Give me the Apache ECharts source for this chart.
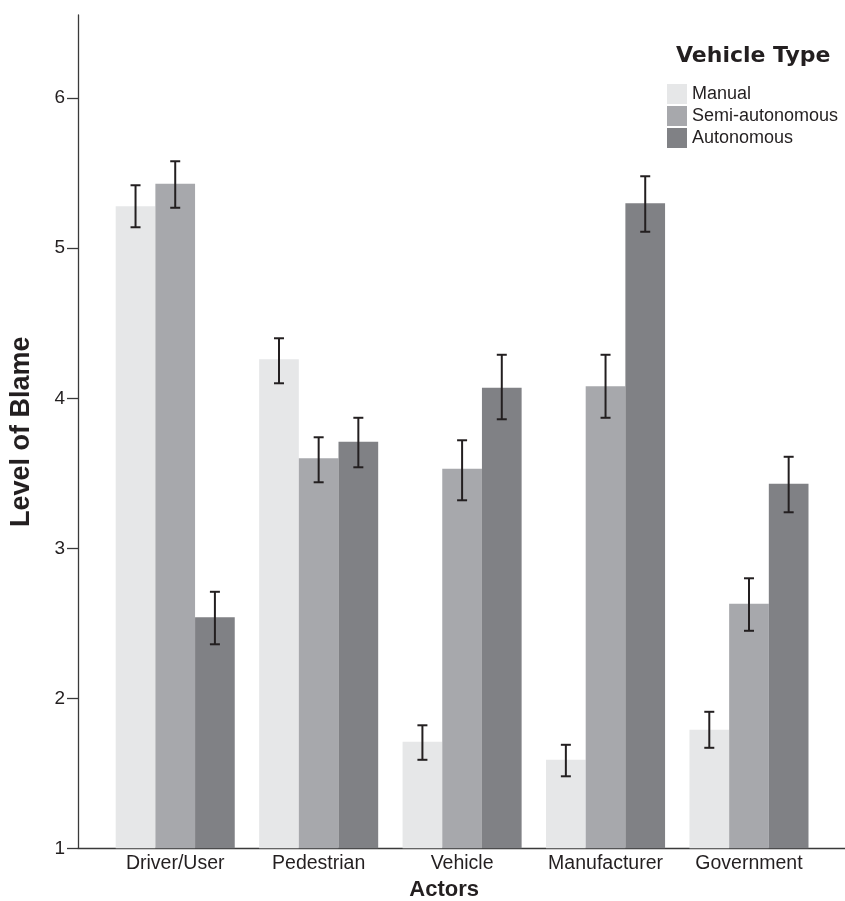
<!DOCTYPE html>
<html>
<head>
<meta charset="utf-8">
<script src="https://cdn.jsdelivr.net/npm/echarts@6/dist/echarts.min.js"></script>
<style>html,body{margin:0;padding:0;background:#fff;}#chart{width:845px;height:901px;}</style>
</head>
<body>
<div id="chart"></div>
<script>
const categories = ['Driver/User', 'Pedestrian', 'Vehicle', 'Manufacturer', 'Government'];
const seriesNames = ['Manual', 'Semi-autonomous', 'Autonomous'];
const manual = [5.28, 4.26, 1.71, 1.59, 1.79];
const manualLow = [5.14, 4.10, 1.59, 1.48, 1.67];
const manualHigh = [5.42, 4.40, 1.82, 1.69, 1.91];
const semi = [5.43, 3.60, 3.53, 4.08, 2.63];
const semiLow = [5.27, 3.44, 3.32, 3.87, 2.45];
const semiHigh = [5.58, 3.74, 3.72, 4.29, 2.80];
const autonomous = [2.54, 3.71, 4.07, 5.30, 3.43];
const autonomousLow = [2.36, 3.54, 3.86, 5.11, 3.24];
const autonomousHigh = [2.71, 3.87, 4.29, 5.48, 3.61];
const yTicks = [1, 2, 3, 4, 5, 6];

const colors = ['#e6e7e8', '#a7a8ac', '#808185'];
const values = [manual, semi, autonomous];
const lows = [manualLow, semiLow, autonomousLow];
const highs = [manualHigh, semiHigh, autonomousHigh];

const errData = [];
for (let s = 0; s < 3; s++) {
  for (let c = 0; c < categories.length; c++) {
    errData.push([c, s, lows[s][c], highs[s][c]]);
  }
}

const FONT = '"Liberation Sans", Arial, Helvetica, sans-serif';
const TXT = '#231f20';
const YMIN = 1, YMAX = 6.555;
const GAP = 0.17;

const chart = echarts.init(document.getElementById('chart'), null, {renderer: 'canvas'});
const option = {
  animation: false,
  backgroundColor: '#ffffff',
  title: {
    text: 'Vehicle Type',
    left: 671, top: 40,
    textStyle: {fontFamily: '"DejaVu Sans", sans-serif', fontWeight: 'bold', fontSize: 22, color: TXT}
  },
  legend: {
    orient: 'vertical',
    left: 662, top: 79,
    icon: 'rect',
    itemWidth: 20, itemHeight: 20, itemGap: 2,
    data: seriesNames,
    textStyle: {fontFamily: FONT, fontSize: 18, color: TXT, padding: [0, 0, 0, 0]}
  },
  grid: [
    {left: 103.5, right: 24.3, top: 15, bottom: 52.7, containLabel: false, outerBoundsMode: 'none'},
    {left: 78, right: 0, top: 15, bottom: 52.7, containLabel: false, outerBoundsMode: 'none'}
  ],
  xAxis: [
    {
      type: 'category', gridIndex: 0, data: categories,
      axisLine: {show: false}, axisTick: {show: false},
      axisLabel: {fontFamily: FONT, fontSize: 19.5, color: TXT, margin: 5, interval: 0},
      name: 'Actors', nameLocation: 'middle', nameGap: 31,
      nameTextStyle: {fontFamily: FONT, fontWeight: 'bold', fontSize: 22, color: TXT, padding: [0, 36, 0, 0]}
    },
    {
      type: 'value', gridIndex: 1, min: 0, max: 1,
      axisLine: {show: true, onZero: false, lineStyle: {color: '#3a3a3a', width: 1.3}},
      axisTick: {show: false}, axisLabel: {show: false}, splitLine: {show: false}
    }
  ],
  yAxis: [
    {type: 'value', gridIndex: 0, min: YMIN, max: YMAX, show: false, splitLine: {show: false}},
    {
      type: 'value', gridIndex: 1, min: YMIN, max: YMAX,
      axisLine: {show: true, onZero: false, lineStyle: {color: '#3a3a3a', width: 1.3}},
      axisTick: {show: true, length: 11, customValues: yTicks, lineStyle: {color: '#3a3a3a', width: 1.3}},
      axisLabel: {fontFamily: FONT, fontSize: 19, color: TXT, margin: 13, customValues: yTicks},
      splitLine: {show: false},
      name: 'Level of Blame', nameLocation: 'middle', nameGap: 43,
      nameTextStyle: {fontFamily: FONT, fontWeight: 'bold', fontSize: 27, color: TXT}
    }
  ],
  series: [
    ...seriesNames.map((n, i) => ({
      type: 'bar', name: n, xAxisIndex: 0, yAxisIndex: 0,
      data: values[i],
      barGap: '0%', barCategoryGap: (GAP * 100) + '%',
      itemStyle: {color: colors[i]},
      emphasis: {disabled: true}
    })),
    {
      type: 'custom', xAxisIndex: 0, yAxisIndex: 0, z: 10,
      encode: {x: 0, y: [2, 3]},
      data: errData,
      renderItem: function (params, api) {
        const cat = api.value(0), s = api.value(1), lo = api.value(2), hi = api.value(3);
        const band = api.size([1, 0])[0];
        const bw = band * (1 - GAP) / 3;
        const pLo = api.coord([cat, lo]);
        const pHi = api.coord([cat, hi]);
        const x = pLo[0] + (s - 1) * bw;
        const cap = 5;
        const st = {stroke: TXT, lineWidth: 2};
        return {
          type: 'group',
          children: [
            {type: 'line', shape: {x1: x, y1: pLo[1], x2: x, y2: pHi[1]}, style: st},
            {type: 'line', shape: {x1: x - cap, y1: pLo[1], x2: x + cap, y2: pLo[1]}, style: st},
            {type: 'line', shape: {x1: x - cap, y1: pHi[1], x2: x + cap, y2: pHi[1]}, style: st}
          ]
        };
      }
    }
  ]
};
chart.setOption(option);
</script>
</body>
</html>
